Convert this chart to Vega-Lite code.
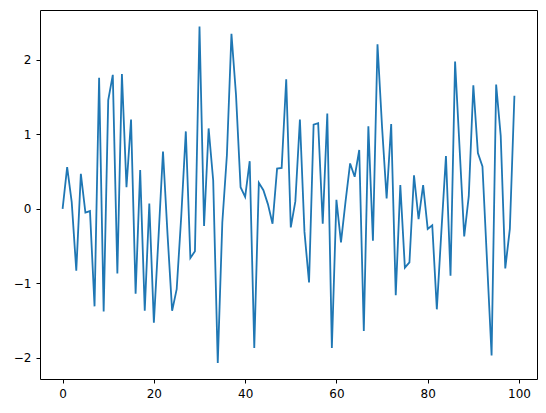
{
  "$schema": "https://vega.github.io/schema/vega-lite/v6.json",
  "width": 497,
  "height": 369,
  "autosize": {"type": "none"},
  "padding": {"left": 40, "top": 10, "right": 9, "bottom": 34},
  "background": "white",
  "config": {
    "view": {"stroke": "black", "strokeWidth": 1},
    "axis": {
      "domain": false,
      "grid": false,
      "ticks": true,
      "tickColor": "black",
      "tickSize": 4,
      "tickWidth": 1,
      "labelFont": "DejaVu Sans",
      "labelFontSize": 12,
      "labelColor": "black",
      "labelPadding": 5,
      "title": null
    }
  },
  "data": {
    "values": [
      {"x": 0, "y": 0}, {"x": 1, "y": 0.56}, {"x": 2, "y": 0.09}, {"x": 3, "y": -0.83}, {"x": 4, "y": 0.47},
      {"x": 5, "y": -0.05}, {"x": 6, "y": -0.03}, {"x": 7, "y": -1.31}, {"x": 8, "y": 1.76}, {"x": 9, "y": -1.38},
      {"x": 10, "y": 1.46}, {"x": 11, "y": 1.8}, {"x": 12, "y": -0.87}, {"x": 13, "y": 1.81}, {"x": 14, "y": 0.29},
      {"x": 15, "y": 1.2}, {"x": 16, "y": -1.14}, {"x": 17, "y": 0.52}, {"x": 18, "y": -1.37}, {"x": 19, "y": 0.07},
      {"x": 20, "y": -1.53}, {"x": 21, "y": -0.4}, {"x": 22, "y": 0.77}, {"x": 23, "y": -0.35}, {"x": 24, "y": -1.37},
      {"x": 25, "y": -1.08}, {"x": 26, "y": -0.1}, {"x": 27, "y": 1.04}, {"x": 28, "y": -0.66}, {"x": 29, "y": -0.57},
      {"x": 30, "y": 2.45}, {"x": 31, "y": -0.23}, {"x": 32, "y": 1.08}, {"x": 33, "y": 0.38}, {"x": 34, "y": -2.07},
      {"x": 35, "y": -0.18}, {"x": 36, "y": 0.72}, {"x": 37, "y": 2.35}, {"x": 38, "y": 1.53}, {"x": 39, "y": 0.29},
      {"x": 40, "y": 0.16}, {"x": 41, "y": 0.64}, {"x": 42, "y": -1.87}, {"x": 43, "y": 0.35}, {"x": 44, "y": 0.25},
      {"x": 45, "y": 0.06}, {"x": 46, "y": -0.2}, {"x": 47, "y": 0.54}, {"x": 48, "y": 0.55}, {"x": 49, "y": 1.74},
      {"x": 50, "y": -0.25}, {"x": 51, "y": 0.1}, {"x": 52, "y": 1.2}, {"x": 53, "y": -0.31}, {"x": 54, "y": -0.99},
      {"x": 55, "y": 1.13}, {"x": 56, "y": 1.15}, {"x": 57, "y": -0.2}, {"x": 58, "y": 1.28}, {"x": 59, "y": -1.87},
      {"x": 60, "y": 0.12}, {"x": 61, "y": -0.45}, {"x": 62, "y": 0.1}, {"x": 63, "y": 0.61}, {"x": 64, "y": 0.43},
      {"x": 65, "y": 0.79}, {"x": 66, "y": -1.64}, {"x": 67, "y": 1.11}, {"x": 68, "y": -0.43}, {"x": 69, "y": 2.21},
      {"x": 70, "y": 1.1}, {"x": 71, "y": 0.14}, {"x": 72, "y": 1.14}, {"x": 73, "y": -1.16}, {"x": 74, "y": 0.32},
      {"x": 75, "y": -0.79}, {"x": 76, "y": -0.72}, {"x": 77, "y": 0.45}, {"x": 78, "y": -0.14}, {"x": 79, "y": 0.32},
      {"x": 80, "y": -0.27}, {"x": 81, "y": -0.22}, {"x": 82, "y": -1.35}, {"x": 83, "y": -0.3}, {"x": 84, "y": 0.71},
      {"x": 85, "y": -0.9}, {"x": 86, "y": 1.98}, {"x": 87, "y": 0.8}, {"x": 88, "y": -0.37}, {"x": 89, "y": 0.17},
      {"x": 90, "y": 1.66}, {"x": 91, "y": 0.75}, {"x": 92, "y": 0.57}, {"x": 93, "y": -0.7}, {"x": 94, "y": -1.97},
      {"x": 95, "y": 1.67}, {"x": 96, "y": 0.98}, {"x": 97, "y": -0.8}, {"x": 98, "y": -0.27}, {"x": 99, "y": 1.52}
    ]
  },
  "mark": {"type": "line", "color": "#1f77b4", "strokeWidth": 1.8},
  "encoding": {
    "x": {
      "field": "x",
      "type": "quantitative",
      "scale": {"domain": [-4.95, 103.95], "nice": false, "zero": false},
      "axis": {"values": [0, 20, 40, 60, 80, 100], "format": "d"}
    },
    "y": {
      "field": "y",
      "type": "quantitative",
      "scale": {"domain": [-2.286, 2.671], "nice": false, "zero": false},
      "axis": {"values": [-2, -1, 0, 1, 2], "format": "d"}
    }
  }
}
